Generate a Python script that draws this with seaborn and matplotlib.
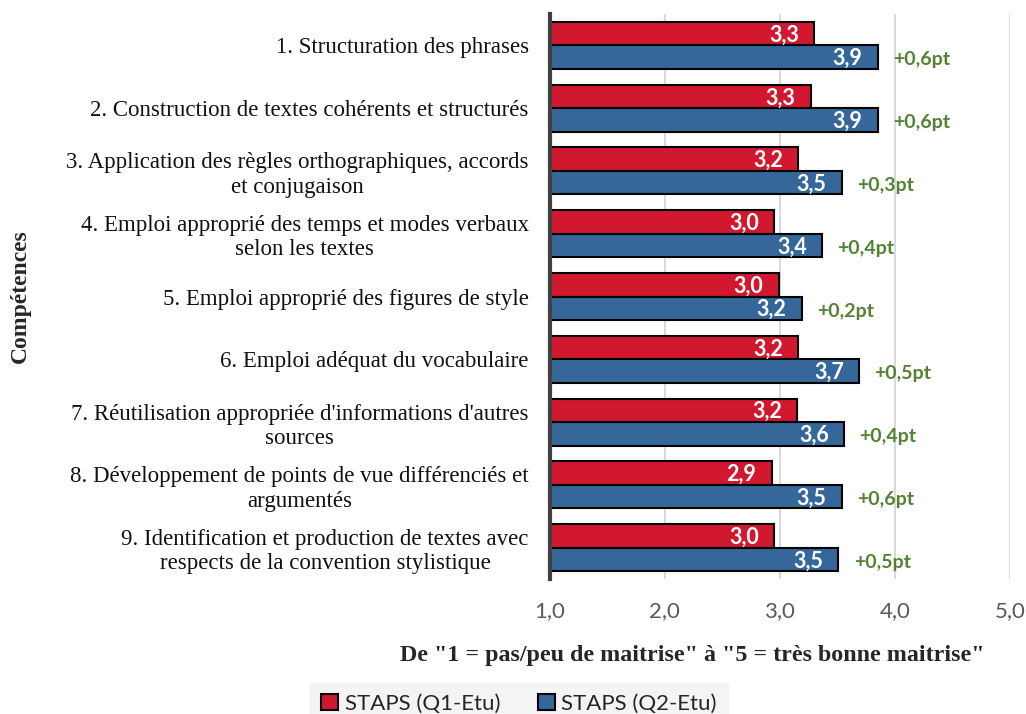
import numpy as np
import pandas as pd
import matplotlib
matplotlib.use("Agg")
import matplotlib.pyplot as plt
import seaborn as sns

# Competences evaluated (mean self-rated mastery, scale 1 to 5)
competences = [
    "1. Structuration des phrases",
    "2. Construction de textes cohérents et structurés",
    "3. Application des règles orthographiques, accords\net conjugaison",
    "4. Emploi approprié des temps et modes verbaux\nselon les textes",
    "5. Emploi approprié des figures de style",
    "6. Emploi adéquat du vocabulaire",
    "7. Réutilisation appropriée d'informations d'autres\nsources",
    "8. Développement de points de vue différenciés et\nargumentés",
    "9. Identification et production de textes avec\nrespects de la convention stylistique",
]
series_names = ["STAPS (Q1-Etu)", "STAPS (Q2-Etu)"]
q1_scores = [3.30, 3.27, 3.16, 2.95, 2.99, 3.16, 3.15, 2.93, 2.95]
q2_scores = [3.85, 3.85, 3.54, 3.37, 3.19, 3.69, 3.56, 3.54, 3.51]
x_ticks = [1, 2, 3, 4, 5]

RED = "#D2182E"
BLUE = "#35679A"
GREEN = "#548235"


def fr(v):
    """One-decimal number with a French decimal comma."""
    return f"{round(v + 1e-9, 1):.1f}".replace(".", ",")


sns.set_theme(style="white")
plt.rcParams["font.family"] = ["Lato", "DejaVu Sans"]

df = pd.DataFrame({
    "competence": competences * 2,
    "serie": [series_names[0]] * len(competences) + [series_names[1]] * len(competences),
    "score": q1_scores + q2_scores,
})

W, H = 1026, 714
fig = plt.figure(figsize=(W / 100, H / 100), dpi=100)
ax = fig.add_axes([549.5 / W, (H - 579) / H, (1010 - 549.5) / W, (579 - 14) / H])

sns.barplot(data=df, y="competence", x="score", hue="serie", orient="h",
            palette=[RED, BLUE], saturation=1, width=0.75, errorbar=None,
            edgecolor="black", linewidth=1.5, ax=ax, legend=True)

ax.set_xlim(1, 5)
ax.set_ylim(len(competences) - 0.5, -0.5)
ax.set_xticks(x_ticks)
ax.set_xticklabels([fr(t) for t in x_ticks], fontsize=16, color="#595959")
ax.tick_params(axis="x", length=0, pad=16)
ax.set_yticks(range(len(competences)))
ax.set_yticklabels(competences, fontfamily="Liberation Serif", fontsize=16.5,
                   multialignment="center", color="#111111")
ax.tick_params(axis="y", length=0, pad=15)
ax.set_xlabel("")
ax.set_ylabel("")

ax.xaxis.grid(True, color="#D9D9D9", linewidth=1.4)
ax.set_axisbelow(True)
for side in ["top", "right", "bottom"]:
    ax.spines[side].set_visible(False)
ax.spines["left"].set_color("#404040")
ax.spines["left"].set_linewidth(3)
ax.spines["left"].set_zorder(5)

# value labels inside the end of each bar
for cont, vals in zip(ax.containers, [q1_scores, q2_scores]):
    for patch, v in zip(cont.patches, vals):
        y = patch.get_y() + patch.get_height() / 2
        ax.annotate(fr(v), (v, y), xytext=(-11, -1),
                    textcoords="offset points", ha="right", va="center",
                    color="white", fontsize=15.5, fontweight="bold")

# progression between the two questionnaires
blue_patches = ax.containers[1].patches
for patch, a, b in zip(blue_patches, q1_scores, q2_scores):
    delta = round(b + 1e-9, 1) - round(a + 1e-9, 1)
    y = patch.get_y() + patch.get_height() / 2
    ax.annotate(f"+{fr(delta)}pt", (b, y), xytext=(11, -2),
                textcoords="offset points", ha="left", va="center",
                color=GREEN, fontsize=14, fontweight="bold")

fig.text(20 / W, 1 - 296 / H, "Compétences", rotation=90, ha="center", va="center",
         fontfamily="Liberation Serif", fontweight="bold", fontsize=17)
fig.text(692 / W, 1 - 655 / H,
         'De "1 = pas/peu de maitrise" à "5 = très bonne maitrise"',
         ha="center", va="center", fontfamily="Liberation Serif",
         fontweight="bold", fontsize=17.3)

handles, labels = ax.get_legend_handles_labels()
ax.get_legend().remove()
leg = fig.legend(handles, labels, loc="center", bbox_to_anchor=(519 / W, 1 - 704 / H),
                 ncol=2, frameon=True, fancybox=False, facecolor="#F2F2F2",
                 edgecolor="#F2F2F2", fontsize=16, handlelength=0.75,
                 handleheight=0.75, handletextpad=0.3, columnspacing=1.7,
                 borderpad=0.5, borderaxespad=0)
for t in leg.get_texts():
    t.set_color("#262626")

fig.savefig("out.png", dpi=100)
